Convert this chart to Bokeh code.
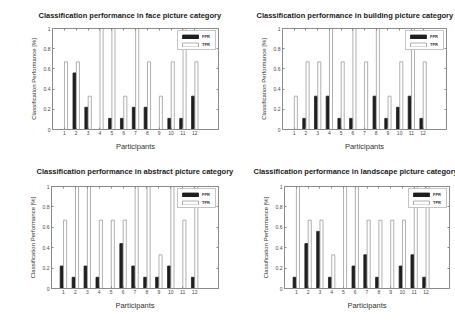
from bokeh.plotting import figure
from bokeh.layouts import column, row
from bokeh.models import ColumnDataSource, FixedTicker, LinearAxis
from bokeh.transform import dodge
from bokeh.embed import file_html
from bokeh.resources import INLINE

# Per-participant classification rates for each picture category
participants = list(range(1, 13))

face_fpr = [0.0, 0.56, 0.22, 0.0, 0.11, 0.11, 0.22, 0.22, 0.0, 0.11, 0.11, 0.33]
face_tpr = [0.67, 0.67, 0.33, 1.0, 1.0, 0.33, 1.0, 0.67, 0.33, 0.67, 1.0, 0.67]

building_fpr = [0.0, 0.11, 0.33, 0.33, 0.11, 0.11, 0.0, 0.33, 0.11, 0.22, 0.33, 0.11]
building_tpr = [0.33, 0.67, 0.67, 1.0, 0.67, 1.0, 0.67, 1.0, 0.33, 0.67, 1.0, 0.67]

abstract_fpr = [0.22, 0.11, 0.22, 0.11, 0.0, 0.44, 0.22, 0.11, 0.11, 0.22, 0.0, 0.11]
abstract_tpr = [0.67, 1.0, 1.0, 0.67, 0.67, 0.67, 1.0, 1.0, 0.33, 1.0, 0.67, 1.0]

landscape_fpr = [0.11, 0.44, 0.56, 0.11, 0.0, 0.22, 0.33, 0.11, 0.0, 0.22, 0.33, 0.11]
landscape_tpr = [1.0, 0.67, 0.67, 0.33, 1.0, 1.0, 0.67, 0.67, 0.67, 0.67, 1.0, 1.0]

y_ticks = [0, 0.2, 0.4, 0.6, 0.8, 1]
y_tick_labels = ["0", "0.2", "0.4", "0.6", "0.8", "1"]

FONT = "Liberation Sans"
AXIS_COLOR = "#8a8a8a"
TEXT_COLOR = "#333333"
FPR_COLOR = "#1f1f1f"
TPR_LINE = "#9c9c9c"


def style_axis(ax, ticks, labelled=True):
    ax.ticker = FixedTicker(ticks=ticks)
    ax.axis_line_color = AXIS_COLOR
    ax.major_tick_line_color = AXIS_COLOR
    ax.major_tick_in = 2
    ax.major_tick_out = 0
    ax.minor_tick_line_color = None
    ax.major_label_text_font = FONT
    if labelled:
        ax.major_label_text_color = "#474747"
        ax.major_label_text_font_size = "5px"
        ax.major_label_standoff = 1
    else:
        # tick marks only, no tick texts
        ax.major_label_text_color = None
        ax.major_label_text_font_size = "1px"
        ax.major_label_standoff = 0


def make_panel(title, fpr, tpr, width, height, borders, title_offset, title_standoff):
    left, right, top, bottom = borders
    p = figure(width=width, height=height, x_range=(0, 14), y_range=(0, 1),
               output_backend="svg", toolbar_location=None,
               min_border_left=left, min_border_right=right,
               min_border_top=top, min_border_bottom=bottom)
    p.xgrid.visible = False
    p.ygrid.visible = False
    p.outline_line_color = AXIS_COLOR
    p.background_fill_color = "white"
    p.border_fill_color = "white"

    src = ColumnDataSource(dict(x=participants, fpr=fpr, tpr=tpr))
    p.vbar(x=dodge("x", -0.14), top="fpr", width=0.26, source=src,
           fill_color=FPR_COLOR, line_color=FPR_COLOR, line_width=0.8,
           legend_label="FPR")
    p.vbar(x=dodge("x", 0.14), top="tpr", width=0.26, source=src,
           fill_color="white", line_color=TPR_LINE, line_width=0.8,
           legend_label="TPR")

    # bottom / left axes with labels
    style_axis(p.xaxis[0], participants)
    style_axis(p.yaxis[0], y_ticks)
    p.yaxis[0].major_label_standoff = 2
    p.yaxis[0].major_label_overrides = dict(zip(y_ticks, y_tick_labels))
    p.xaxis[0].axis_label = "Participants"
    p.xaxis[0].axis_label_text_font = FONT
    p.xaxis[0].axis_label_text_font_style = "normal"
    p.xaxis[0].axis_label_text_font_size = "7.5px"
    p.xaxis[0].axis_label_text_color = TEXT_COLOR
    p.xaxis[0].axis_label_standoff = 4
    p.yaxis[0].axis_label = "Classification Performance [%]"
    p.yaxis[0].axis_label_text_font = FONT
    p.yaxis[0].axis_label_text_font_style = "normal"
    p.yaxis[0].axis_label_text_font_size = "6px"
    p.yaxis[0].axis_label_text_color = TEXT_COLOR
    p.yaxis[0].axis_label_standoff = 4

    # tick marks on the top and right edges of the box
    top_ax = LinearAxis()
    style_axis(top_ax, participants, labelled=False)
    p.add_layout(top_ax, "above")
    right_ax = LinearAxis()
    style_axis(right_ax, y_ticks, labelled=False)
    p.add_layout(right_ax, "right")

    p.title.text = title
    p.title.text_font = FONT
    p.title.text_font_style = "bold"
    p.title.text_font_size = "7.5px"
    p.title.text_color = "#1a1a1a"
    p.title.align = "left"
    p.title.offset = title_offset
    p.title.standoff = title_standoff

    lg = p.legend[0]
    lg.location = "top_right"
    lg.margin = 2
    lg.padding = 2
    lg.spacing = 2
    lg.glyph_width = 20
    lg.glyph_height = 5
    lg.label_height = 6
    lg.label_width = 11
    lg.label_standoff = 2
    lg.label_text_font = FONT
    lg.label_text_font_style = "bold"
    lg.label_text_font_size = "4px"
    lg.label_text_color = TEXT_COLOR
    lg.border_line_color = AXIS_COLOR
    lg.border_line_width = 0.8
    lg.background_fill_color = "white"
    lg.background_fill_alpha = 1.0
    return p


W_LEFT = 245
W_RIGHT = 455 - W_LEFT
H_TOP = 153
H_BOTTOM = 173

p1 = make_panel("Classification performance in face picture category",
                face_fpr, face_tpr, W_LEFT, H_TOP, (52, 27, 28, 22), -14, 17)
p2 = make_panel("Classification performance in building picture category",
                building_fpr, building_tpr, W_RIGHT, H_TOP, (37, 9, 28, 22), -26, 17)
p3 = make_panel("Classification performance in abstract picture category",
                abstract_fpr, abstract_tpr, W_LEFT, H_BOTTOM, (51, 27, 32, 38), -15, 22)
p4 = make_panel("Classification performance in landscape picture category",
                landscape_fpr, landscape_tpr, W_RIGHT, H_BOTTOM, (39, 6, 32, 38), -31, 22)

layout = column(row(p1, p2), row(p3, p4))

with open("out.html", "w") as f:
    f.write(file_html(layout, INLINE))
